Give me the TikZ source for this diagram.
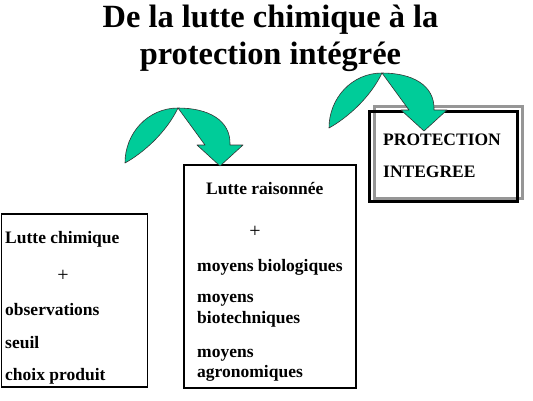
\documentclass[tikz,border=0pt]{standalone}
\usepackage{fontspec}
\setmainfont{Liberation Serif}
\definecolor{arrowgreen}{RGB}{0,204,153}
\definecolor{shadowgray}{RGB}{150,150,150}
\newcommand{\bendarrow}{(0,0) .. controls (-30,0) and (-53,25) .. (-53,55)
  .. controls (-35,45) and (-12,25) .. (0,0)
  -- (27,37) -- (19,37) -- (42,58) -- (65,37) -- (52,37)
  .. controls (53,12) and (30,0) .. (0,0) -- cycle}

\begin{document}
\begin{tikzpicture}[x=1pt,y=-1pt]
	\tikzset{
		box/.style={draw, line width=1.5pt, anchor=north west, inner sep=0},
		txt/.style={font=\bfseries\fontsize{17.5}{20}\selectfont, anchor=base west, inner sep=0},
		plus/.style={font=\fontsize{20}{20}\selectfont, inner sep=0},
		titletxt/.style={font=\bfseries\fontsize{32.4}{34}\selectfont, anchor=base, inner sep=0},
		greenarrow/.style={fill=arrowgreen, draw=black!80, line width=0.6pt, line join=round}
	}
	\useasboundingbox (0,0) rectangle (533,400);

	\node[titletxt] (title1) at (270.5,27) {De la lutte chimique à la};
	\node[titletxt] (title2) at (270.5,64) {protection intégrée};

	% boxes
	\node[box, minimum width=146pt, minimum height=173pt] (chimBox) at (0.8,213) {};
	\node[box, minimum width=172pt, minimum height=223pt] (raisBox) at (183,164) {};
	\node[box, draw=shadowgray, line width=3pt, minimum width=148pt, minimum height=92pt] (pigShadow) at (373,105) {};
	\node[box, line width=3pt, minimum width=148pt, minimum height=90pt] (pigBox) at (368,110) {};

	% lutte chimique
	\node[txt] (chim1) at (5,243) {Lutte chimique};
	\node[plus] (chimPlus) at (63,276) {+};
	\node[txt] (chim2) at (5,315) {observations};
	\node[txt] (chim3) at (5,348) {seuil};
	\node[txt] (chim4) at (5,380) {choix produit};

	% lutte raisonnee
	\node[txt] (rais1) at (206,194) {Lutte raisonnée};
	\node[plus] (raisPlus) at (255,232) {+};
	\node[txt] (rais2) at (197,271) {moyens biologiques};
	\node[txt] (rais3) at (197,302) {moyens};
	\node[txt] (rais4) at (197,323) {biotechniques};
	\node[txt] (rais5) at (197,357) {moyens};
	\node[txt] (rais6) at (197,377) {agronomiques};

	% protection integree
	\node[txt] (pig1) at (383,145) {PROTECTION};
	\node[txt] (pig2) at (383,177) {INTEGREE};

	% arrows
	\filldraw[greenarrow, shift={(178,108)}] \bendarrow;
	\filldraw[greenarrow, shift={(382,73)}] \bendarrow;
\end{tikzpicture}
\end{document}
